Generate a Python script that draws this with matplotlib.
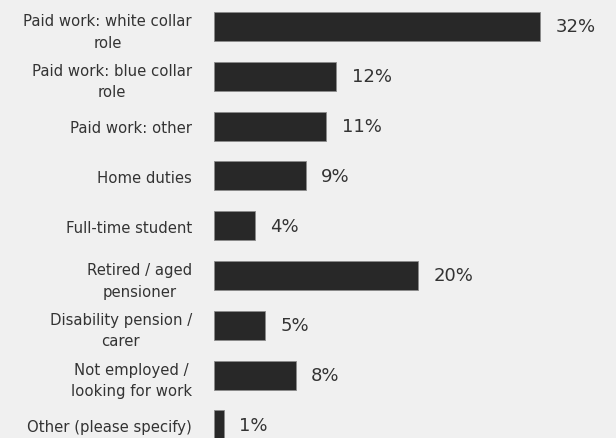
import numpy as np
import matplotlib.pyplot as plt

# survey answers, top to bottom
categories = [
    "Paid work: white collar\nrole",
    "Paid work: blue collar\nrole",
    "Paid work: other",
    "Home duties",
    "Full-time student",
    "Retired / aged\npensioner",
    "Disability pension /\ncarer",
    "Not employed /\nlooking for work",
    "Other (please specify)",
]
percent = [32, 12, 11, 9, 4, 20, 5, 8, 1]

plt.rcParams['font.family'] = ['DejaVu Sans']
bg = '#f0f0f0'
bar_color = '#282828'
text_color = '#333333'

fig = plt.figure(figsize=(6.16, 4.39), dpi=100, facecolor=bg)
ax = fig.add_axes([214 / 616, 0, 1 - 214 / 616, 1])
ax.set_facecolor(bg)

y = np.arange(len(categories))
ax.barh(y, percent, height=0.58, color=bar_color, edgecolor='#8a8a8a', linewidth=0.6)

for yi, v in zip(y, percent):
    ax.annotate(f"{v}%", (v, yi), xytext=(11, 0), textcoords='offset points',
                va='center', ha='left', fontsize=13, color=text_color)

ax.set_yticks(y)
ax.set_yticklabels(categories, fontsize=10.7, color=text_color, linespacing=1.55)
for lbl in ax.get_yticklabels():
    lbl.set_multialignment('center')
ax.tick_params(axis='y', length=0, pad=16)
ax.set_xticks([])
ax.set_xlim(0, 39.4)
ax.set_ylim(8.263, -0.552)
for s in ax.spines.values():
    s.set_visible(False)

fig.savefig('out.png', dpi=100, facecolor=bg)
